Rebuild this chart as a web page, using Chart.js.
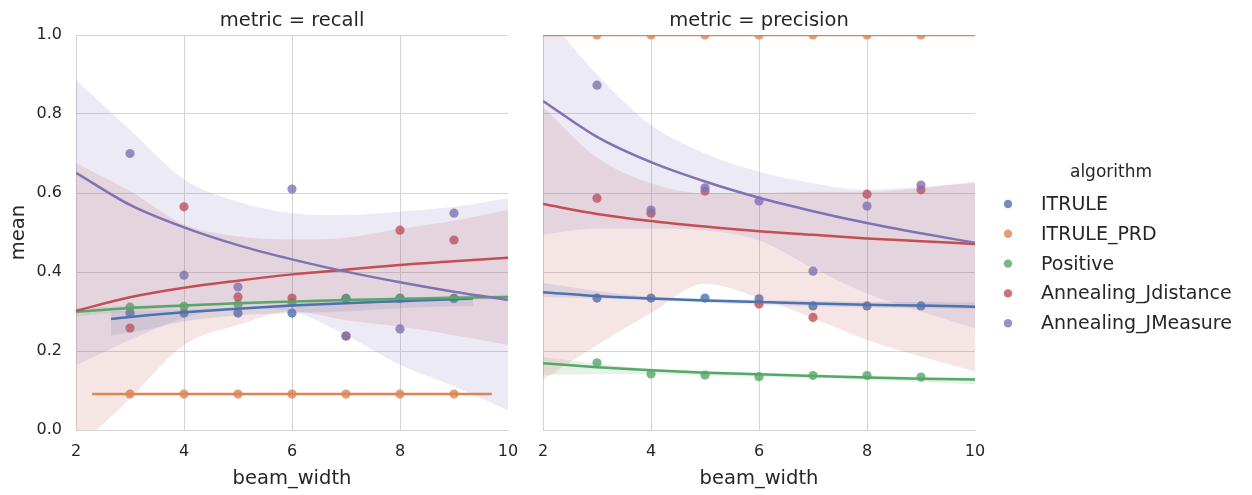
<!DOCTYPE html>
<html>
<head>
<meta charset="utf-8">
<title>mean by beam_width</title>
<script src="https://cdn.jsdelivr.net/npm/chart.js@4.4.0/dist/chart.umd.min.js"></script>
<style>
  body { margin: 0; background: #fff; }
  #wrap { position: relative; width: 1252px; height: 495px; }
  canvas { position: absolute; top: 0; }
  #recallChart { left: 0; }
  #precisionChart { left: 525px; }
</style>
</head>
<body>
<div id="wrap">
  <canvas id="recallChart" width="535" height="495"></canvas>
  <canvas id="precisionChart" width="727" height="495"></canvas>
</div>
<script>
const algorithms = ['ITRULE', 'ITRULE_PRD', 'Positive', 'Annealing_Jdistance', 'Annealing_JMeasure'];
const colors = ['76,114,176', '221,132,82', '85,168,104', '196,78,82', '129,114,179'];
const beamWidths = [3, 4, 5, 6, 7, 8, 9];
const xTicks = [2, 4, 6, 8, 10];
const yTicks = [0, 0.2, 0.4, 0.6, 0.8, 1.0];

// mean recall per beam width
const recallITRULE = [0.296, 0.296, 0.296, 0.296, 0.333, 0.333, 0.333];
const recallITRULE_PRD = [0.091, 0.091, 0.091, 0.091, 0.091, 0.091, 0.091];
const recallPositive = [0.311, 0.313, 0.318, 0.322, 0.333, 0.334, 0.333];
const recallJdistance = [0.258, 0.565, 0.337, 0.334, 0.238, 0.506, 0.481];
const recallJMeasure = [0.700, 0.392, 0.362, 0.610, 0.238, 0.256, 0.549];

// mean precision per beam width
const precisionITRULE = [0.334, 0.334, 0.334, 0.332, 0.314, 0.314, 0.314];
const precisionITRULE_PRD = [1.0, 1.0, 1.0, 1.0, 1.0, 1.0, 1.0];
const precisionPositive = [0.170, 0.142, 0.139, 0.135, 0.138, 0.138, 0.134];
const precisionJdistance = [0.587, 0.549, 0.605, 0.319, 0.285, 0.597, 0.608];
const precisionJMeasure = [0.873, 0.557, 0.613, 0.580, 0.402, 0.567, 0.620];

// x positions of the regression curves
const fitX = [2, 3, 4, 5, 6, 7, 8, 9, 10];
const fitXShort = [2.65, 3, 4, 5, 6, 7, 8, 9, 9.35];
const fitXPrd = [2.3, 9.7];
const fitXEnds = [2, 10];

// log(x) regression curves, recall
const recallFitITRULE = [0.281, 0.286, 0.298, 0.307, 0.315, 0.321, 0.326, 0.331, 0.333];
const recallFitITRULE_PRD = [0.091, 0.091];
const recallFitPositive = [0.299, 0.309, 0.315, 0.321, 0.325, 0.329, 0.332, 0.335, 0.337];
const recallFitJdistance = [0.302, 0.336, 0.360, 0.378, 0.394, 0.406, 0.418, 0.427, 0.436];
const recallFitJMeasure = [0.651, 0.570, 0.513, 0.468, 0.432, 0.401, 0.374, 0.350, 0.329];

// 95% bands, recall
const recallLowITRULE = [0.240, 0.246, 0.275, 0.290, 0.296, 0.300, 0.308, 0.313, 0.314];
const recallHighITRULE = [0.300, 0.301, 0.306, 0.311, 0.320, 0.329, 0.334, 0.335, 0.336];
const recallLowPositive = [0.287, 0.301, 0.310, 0.317, 0.321, 0.325, 0.328, 0.330, 0.331];
const recallHighPositive = [0.309, 0.314, 0.319, 0.324, 0.328, 0.332, 0.335, 0.339, 0.343];
const recallLowJdistance = [-0.05, 0.080, 0.215, 0.266, 0.300, 0.278, 0.262, 0.240, 0.215];
const recallHighJdistance = [0.676, 0.605, 0.520, 0.490, 0.483, 0.487, 0.510, 0.530, 0.557];
const recallLowJMeasure = [0.164, 0.228, 0.283, 0.310, 0.300, 0.240, 0.165, 0.110, 0.050];
const recallHighJMeasure = [0.886, 0.760, 0.635, 0.578, 0.549, 0.544, 0.553, 0.565, 0.587];

// log(x) regression curves, precision
const precisionFitITRULE = [0.349, 0.339, 0.333, 0.328, 0.324, 0.320, 0.317, 0.315, 0.312];
const precisionFitITRULE_PRD = [1.0, 1.0];
const precisionFitPositive = [0.169, 0.159, 0.151, 0.145, 0.141, 0.137, 0.133, 0.130, 0.128];
const precisionFitJdistance = [0.572, 0.547, 0.529, 0.515, 0.503, 0.494, 0.485, 0.478, 0.471];
const precisionFitJMeasure = [0.833, 0.742, 0.678, 0.629, 0.588, 0.554, 0.524, 0.498, 0.474];

// 95% bands, precision
const precisionLowITRULE = [0.337, 0.333, 0.329, 0.323, 0.317, 0.313, 0.310, 0.308, 0.306];
const precisionHighITRULE = [0.372, 0.352, 0.338, 0.333, 0.330, 0.327, 0.325, 0.324, 0.323];
const precisionLowPositive = [0.139, 0.141, 0.141, 0.138, 0.135, 0.132, 0.127, 0.122, 0.116];
const precisionHighPositive = [0.185, 0.168, 0.156, 0.150, 0.145, 0.141, 0.138, 0.135, 0.133];
const precisionLowJdistance = [0.127, 0.215, 0.296, 0.370, 0.334, 0.283, 0.228, 0.186, 0.148];
const precisionHighJdistance = [0.818, 0.690, 0.625, 0.600, 0.600, 0.603, 0.603, 0.612, 0.629];
const precisionLowJMeasure = [0.495, 0.510, 0.510, 0.505, 0.480, 0.410, 0.345, 0.300, 0.257];
const precisionHighJMeasure = [1.060, 0.900, 0.772, 0.700, 0.654, 0.625, 0.608, 0.616, 0.625];

const recallPanel = {
  points: [recallITRULE, recallITRULE_PRD, recallPositive, recallJdistance, recallJMeasure],
  fitXs: [fitXShort, fitXPrd, fitX, fitX, fitX],
  fits: [recallFitITRULE, recallFitITRULE_PRD, recallFitPositive, recallFitJdistance, recallFitJMeasure],
  lows: [recallLowITRULE, null, recallLowPositive, recallLowJdistance, recallLowJMeasure],
  highs: [recallHighITRULE, null, recallHighPositive, recallHighJdistance, recallHighJMeasure]
};
const precisionPanel = {
  points: [precisionITRULE, precisionITRULE_PRD, precisionPositive, precisionJdistance, precisionJMeasure],
  fitXs: [fitX, fitXEnds, fitX, fitX, fitX],
  fits: [precisionFitITRULE, precisionFitITRULE_PRD, precisionFitPositive, precisionFitJdistance, precisionFitJMeasure],
  lows: [precisionLowITRULE, null, precisionLowPositive, precisionLowJdistance, precisionLowJMeasure],
  highs: [precisionHighITRULE, null, precisionHighPositive, precisionHighJdistance, precisionHighJMeasure]
};

const FONT = '"DejaVu Sans", "Liberation Sans", sans-serif';
const TEXT = '#262626';
const GRID = '#d4d4d4';

function xy(xs, ys) {
  return xs.map((x, i) => ({ x: x, y: ys[i] }));
}

// scatter + band go under every curve, like matplotlib z-order
function buildDatasets(panel) {
  let sets = [];
  algorithms.forEach((name, k) => {
    let c = colors[k];
    sets.push({
      label: name,
      data: xy(beamWidths, panel.points[k]),
      showLine: false,
      pointRadius: 4.6,
      pointBorderWidth: 0,
      backgroundColor: 'rgba(' + c + ',0.8)',
      clip: 0,
      order: -(2 * k)
    });
    if (panel.lows[k]) {
      let xs = panel.fitXs[k];
      sets.push({
        label: name + ' ci',
        data: xy(xs, panel.highs[k]),
        showLine: true,
        borderWidth: 0,
        pointRadius: 0,
        cubicInterpolationMode: 'monotone',
        backgroundColor: 'rgba(' + c + ',0.15)',
        fill: '+1',
        clip: 0,
        order: -(2 * k + 1)
      });
      sets.push({
        label: name + ' ci low',
        data: xy(xs, panel.lows[k]),
        showLine: true,
        borderWidth: 0,
        pointRadius: 0,
        cubicInterpolationMode: 'monotone',
        fill: false,
        clip: 0,
        order: -(2 * k + 1)
      });
    }
  });
  algorithms.forEach((name, k) => {
    sets.push({
      label: name + ' fit',
      data: xy(panel.fitXs[k], panel.fits[k]),
      showLine: true,
      borderColor: 'rgb(' + colors[k] + ')',
      borderWidth: 2.5,
      pointRadius: 0,
      cubicInterpolationMode: 'monotone',
      fill: false,
      clip: 0,
      order: -(20 + k)
    });
  });
  return sets;
}

const panelTitle = {
  id: 'panelTitle',
  afterDraw(chart) {
    let ctx = chart.ctx;
    let a = chart.chartArea;
    ctx.save();
    ctx.font = '19.5px ' + FONT;
    ctx.fillStyle = TEXT;
    ctx.textAlign = 'center';
    ctx.textBaseline = 'alphabetic';
    ctx.fillText(chart.options.plugins.panelTitle.text, (a.left + a.right) / 2, 26);
    ctx.restore();
  }
};

const algorithmLegend = {
  id: 'algorithmLegend',
  afterDraw(chart) {
    let ctx = chart.ctx;
    let left = chart.chartArea.right;
    ctx.save();
    ctx.fillStyle = TEXT;
    ctx.font = '17px ' + FONT;
    ctx.textAlign = 'center';
    ctx.textBaseline = 'middle';
    ctx.fillText('algorithm', left + 136, 173);
    ctx.font = '19px ' + FONT;
    ctx.textAlign = 'left';
    algorithms.forEach((name, k) => {
      let y = 204 + k * 29.8;
      ctx.fillStyle = 'rgba(' + colors[k] + ',0.8)';
      ctx.beginPath();
      ctx.arc(left + 33, y, 4.2, 0, Math.PI * 2);
      ctx.fill();
      ctx.fillStyle = TEXT;
      ctx.fillText(name, left + 66, y + 1);
    });
    ctx.restore();
  }
};

function makeOptions(title, showY, padding) {
  return {
    responsive: false,
    animation: false,
    events: [],
    layout: { padding: padding },
    plugins: {
      legend: { display: false },
      tooltip: { enabled: false },
      panelTitle: { text: title }
    },
    scales: {
      x: {
        type: 'linear',
        min: 2,
        max: 10,
        afterBuildTicks: s => { s.ticks = xTicks.map(v => ({ value: v })); },
        afterFit: s => { s.height = 65; },
        grid: {
          color: ctx => (ctx.tick && ctx.tick.value === 10 ? 'rgba(0,0,0,0)' : GRID),
          lineWidth: 1,
          drawTicks: false
        },
        border: { color: GRID, width: 1 },
        ticks: { color: TEXT, font: { family: FONT, size: 16 }, padding: 12, maxRotation: 0 },
        title: {
          display: true,
          text: 'beam_width',
          color: TEXT,
          font: { family: FONT, size: 19.5 },
          padding: { top: 0, bottom: 4 }
        }
      },
      y: {
        min: 0,
        max: 1,
        afterBuildTicks: s => { s.ticks = yTicks.map(v => ({ value: v })); },
        afterFit: s => { s.width = showY ? 76 : 0; },
        grid: { color: GRID, lineWidth: 1, drawTicks: false },
        border: { color: GRID, width: 1 },
        ticks: {
          display: showY,
          color: TEXT,
          font: { family: FONT, size: 16 },
          padding: 14,
          callback: v => v.toFixed(1)
        },
        title: {
          display: showY,
          text: 'mean',
          color: TEXT,
          font: { family: FONT, size: 19.5 },
          padding: { top: 7, bottom: 0 }
        }
      }
    }
  };
}

let recallCtx = document.getElementById('recallChart').getContext('2d');
let recallChart = new Chart(recallCtx, {
  type: 'scatter',
  data: { datasets: buildDatasets(recallPanel) },
  options: makeOptions('metric = recall', true, { top: 35, right: 27, left: 0, bottom: 0 }),
  plugins: [panelTitle]
});

let precisionCtx = document.getElementById('precisionChart').getContext('2d');
let precisionChart = new Chart(precisionCtx, {
  type: 'scatter',
  data: { datasets: buildDatasets(precisionPanel) },
  options: makeOptions('metric = precision', false, { top: 35, right: 277, left: 18, bottom: 0 }),
  plugins: [panelTitle, algorithmLegend]
});
</script>
</body>
</html>
